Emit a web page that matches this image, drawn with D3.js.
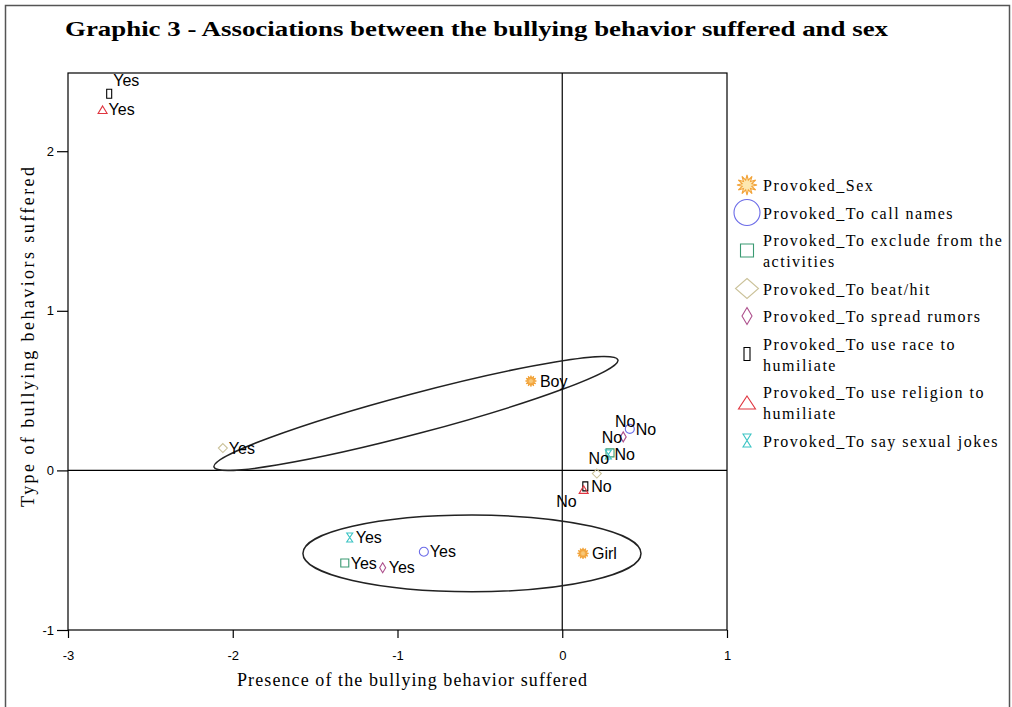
<!DOCTYPE html>
<html>
<head>
<meta charset="utf-8">
<script src="https://cdn.jsdelivr.net/npm/d3@7"></script>
<style>
body { margin: 0; background: #fff; }
svg text { font-family: "Liberation Sans", Arial, sans-serif; }
.serif { font-family: "Liberation Serif", "Times New Roman", serif; }
</style>
</head>
<body>
<div id="chart"></div>
<script>
// variables (legend order) and their wrapped legend text
const varNames = ["Provoked_Sex", "Provoked_To call names", "Provoked_To exclude from the activities",
  "Provoked_To beat/hit", "Provoked_To spread rumors", "Provoked_To use race to humiliate",
  "Provoked_To use religion to humiliate", "Provoked_To say sexual jokes"];
const legendLines = [["Provoked_Sex"], ["Provoked_To call names"], ["Provoked_To exclude from the", "activities"],
  ["Provoked_To beat/hit"], ["Provoked_To spread rumors"], ["Provoked_To use race to", "humiliate"],
  ["Provoked_To use religion to", "humiliate"], ["Provoked_To say sexual jokes"]];

// category points: which variable, label, dimension 1, dimension 2
const pointVar   = [0, 0, 1, 1, 2, 2, 3, 3, 4, 4, 5, 5, 6, 6, 7, 7];
const pointLabel = ["Boy", "Girl", "No", "Yes", "No", "Yes", "No", "Yes", "No", "Yes", "No", "Yes", "No", "Yes", "No", "Yes"];
const dim1 = [-0.19, 0.126, 0.41, -0.84, 0.29, -1.32, 0.21, -2.06, 0.37, -1.09, 0.14, -2.75, 0.13, -2.79, 0.28, -1.29];
const dim2 = [0.56, -0.52, 0.26, -0.51, 0.11, -0.58, -0.02, 0.14, 0.21, -0.61, -0.10, 2.36, -0.12, 2.26, 0.10, -0.42];
// where SPSS put each label relative to its marker
const labelPlace = ["r", "r", "r", "r", "a", "r", "a", "r", "a", "r", "r", "ar", "bl", "r", "r", "r"];

const xTicks = [-3, -2, -1, 0, 1];
const yTicks = [-1, 0, 1, 2];

// hand drawn ellipses (data coords)
const ellUpper = {x1: -2.114, y1: 0.021, x2: 0.338, y2: 0.692, half: 20};
const ellLower = {cx: -0.548, cy: -0.52, rx: 1.026, ry: 0.24};

const colors = ["#f2a33a", "#6c6ce8", "#3a9a72", "#cbc29a", "#ad4f8c", "#000000", "#e0353f", "#3cc4c4"];
const shapes = ["star", "circle", "square", "diamondW", "diamondN", "rect", "triangle", "hourglass"];

const W = 1012, H = 707;
const svg = d3.select("#chart").append("svg").attr("width", W).attr("height", H);

// outer frame
svg.append("rect").attr("x", 5.5).attr("y", 5.5).attr("width", 1004).attr("height", 720)
  .attr("fill", "#fff").attr("stroke", "#555").attr("stroke-width", 1.5);

svg.append("text").attr("class", "serif")
  .attr("x", 65).attr("y", 36)
  .attr("font-size", 21).attr("font-weight", "bold")
  .attr("textLength", 823).attr("lengthAdjust", "spacingAndGlyphs")
  .style("font-family", "'Liberation Serif', serif")
  .text("Graphic 3 - Associations between the bullying behavior suffered and sex");

const x = d3.scaleLinear().domain([-3, 1]).range([68, 727]);
const y = d3.scaleLinear().domain([-1, 2.49]).range([630, 73]);

// plot frame
svg.append("rect").attr("x", x(-3)).attr("y", y(2.49))
  .attr("width", x(1) - x(-3)).attr("height", y(-1) - y(2.49))
  .attr("fill", "none").attr("stroke", "#000").attr("stroke-width", 1.2);

// reference lines
svg.append("line").attr("x1", x(0)).attr("x2", x(0)).attr("y1", y(2.49)).attr("y2", y(-1))
  .attr("stroke", "#000").attr("stroke-width", 1.2);
svg.append("line").attr("x1", x(-3)).attr("x2", x(1)).attr("y1", y(0)).attr("y2", y(0))
  .attr("stroke", "#000").attr("stroke-width", 1.2);

const gx = svg.append("g").attr("transform", `translate(0,${y(-1)})`)
  .call(d3.axisBottom(x).tickValues(xTicks).tickSize(8).tickPadding(13).tickFormat(d3.format("d")));
const gy = svg.append("g").attr("transform", `translate(${x(-3)},0)`)
  .call(d3.axisLeft(y).tickValues(yTicks).tickSize(11).tickPadding(3).tickFormat(d3.format("d")));
[gx, gy].forEach(g => {
  g.select(".domain").remove();
  g.selectAll("line").attr("stroke", "#000").attr("stroke-width", 1.2);
  g.selectAll("text").attr("font-size", 13).attr("fill", "#000")
    .style("font-family", "'Liberation Sans', sans-serif").text(d => d < 0 ? "-" + Math.abs(d) : d);
});

svg.append("text").attr("class", "serif")
  .attr("x", 412).attr("y", 686).attr("text-anchor", "middle")
  .attr("font-size", 18).attr("textLength", 350).attr("lengthAdjust", "spacing")
  .style("font-family", "'Liberation Serif', serif")
  .text("Presence of the bullying behavior suffered");
svg.append("text").attr("class", "serif")
  .attr("transform", "translate(34,337) rotate(-90)").attr("text-anchor", "middle")
  .attr("font-size", 18).attr("textLength", 340).attr("lengthAdjust", "spacing")
  .style("font-family", "'Liberation Serif', serif")
  .text("Type of bullying behaviors suffered");

// ellipses
{
  const px1 = x(ellUpper.x1), py1 = y(ellUpper.y1), px2 = x(ellUpper.x2), py2 = y(ellUpper.y2);
  const a = Math.hypot(px2 - px1, py2 - py1) / 2;
  const ang = Math.atan2(py2 - py1, px2 - px1) * 180 / Math.PI;
  svg.append("ellipse")
    .attr("transform", `translate(${(px1 + px2) / 2},${(py1 + py2) / 2}) rotate(${ang})`)
    .attr("rx", a).attr("ry", ellUpper.half)
    .attr("fill", "none").attr("stroke", "#222").attr("stroke-width", 1.5);
  svg.append("ellipse")
    .attr("cx", x(ellLower.cx)).attr("cy", y(ellLower.cy))
    .attr("rx", x(ellLower.cx + ellLower.rx) - x(ellLower.cx))
    .attr("ry", y(ellLower.cy - ellLower.ry) - y(ellLower.cy))
    .attr("fill", "none").attr("stroke", "#222").attr("stroke-width", 1.5);
}

// marker shapes, big = legend size
function shapePath(kind, big) {
  const p = d3.path();
  if (kind === "star") {
    const R = big ? 10 : 5.5, r = R * 0.5, n = 12;
    for (let i = 0; i < n * 2; i++) {
      const rr = i % 2 ? r : R, t = Math.PI * i / n - Math.PI / 2;
      i ? p.lineTo(rr * Math.cos(t), rr * Math.sin(t)) : p.moveTo(rr * Math.cos(t), rr * Math.sin(t));
    }
    p.closePath();
  } else if (kind === "circle") {
    const r = big ? 13 : 4.5;
    p.moveTo(r, 0); p.arc(0, 0, r, 0, 2 * Math.PI);
  } else if (kind === "square") {
    const s = big ? 6.5 : 4;
    p.rect(-s, -s, 2 * s, 2 * s);
  } else if (kind === "diamondW" || kind === "diamondN") {
    const w = kind === "diamondW" ? (big ? 11.5 : 4.5) : (big ? 5 : 3);
    const h = kind === "diamondW" ? (big ? 10 : 4.5) : (big ? 8.5 : 5);
    p.moveTo(0, -h); p.lineTo(w, 0); p.lineTo(0, h); p.lineTo(-w, 0); p.closePath();
  } else if (kind === "rect") {
    const w = big ? 3 : 2.5, h = big ? 6.5 : 4.5;
    p.rect(-w, -h, 2 * w, 2 * h);
  } else if (kind === "triangle") {
    const w = big ? 8.5 : 4.5, h = big ? 6.5 : 3.8;
    p.moveTo(0, -h); p.lineTo(w, h); p.lineTo(-w, h); p.closePath();
  } else if (kind === "hourglass") {
    const w = big ? 4 : 3, h = big ? 6.5 : 4.5;
    p.moveTo(-w, -h); p.lineTo(w, -h); p.lineTo(-w, h); p.lineTo(w, h); p.closePath();
  }
  return p.toString();
}

const pts = pointLabel.map((lab, i) => ({v: pointVar[i], lab, x: dim1[i], y: dim2[i], place: labelPlace[i]}));

svg.append("g").selectAll("path").data(pts).join("path")
  .attr("d", d => shapePath(shapes[d.v], false))
  .attr("transform", d => `translate(${x(d.x)},${y(d.y)})`)
  .attr("fill", d => shapes[d.v] === "star" ? "#f8c878" : "none")
  .attr("stroke", d => colors[d.v]).attr("stroke-width", 1.1);

svg.append("g").selectAll("text").data(pts).join("text")
  .attr("font-size", 16).attr("fill", "#000")
  .style("font-family", "'Liberation Sans', sans-serif")
  .attr("x", d => {
    const px = x(d.x);
    if (d.place === "a") return px + 2;
    if (d.place === "ar") return px + 4;
    if (d.place === "bl") return px - 7;
    return px + (shapes[d.v] === "star" ? 9 : 6);
  })
  .attr("y", d => {
    const py = y(d.y);
    if (d.place === "a") return py - 15;
    if (d.place === "ar") return py - 13;
    if (d.place === "bl") return py + 12;
    return py;
  })
  .attr("dy", "0.35em")
  .attr("text-anchor", d => d.place === "a" ? "middle" : d.place === "bl" ? "end" : "start")
  .text(d => d.lab);

// legend
const leg = svg.append("g");
let base = 191;
legendLines.forEach((lines, i) => {
  const g = leg.append("g");
  lines.forEach((ln, j) => {
    g.append("text").attr("x", 763).attr("y", base + j * 21)
      .attr("font-size", 16).attr("letter-spacing", 1.5)
      .style("font-family", "'Liberation Serif', serif")
      .text(ln);
  });
  const my = base + (lines.length - 1) * 21 / 2 - 6;
  g.append("path").attr("d", shapePath(shapes[i], true))
    .attr("transform", `translate(747,${my})`)
    .attr("fill", shapes[i] === "star" ? "#fde7b0" : "none")
    .attr("stroke", colors[i]).attr("stroke-width", 1.1);
  base += (lines.length - 1) * 21 + 27.5;
});
</script>
</body>
</html>
